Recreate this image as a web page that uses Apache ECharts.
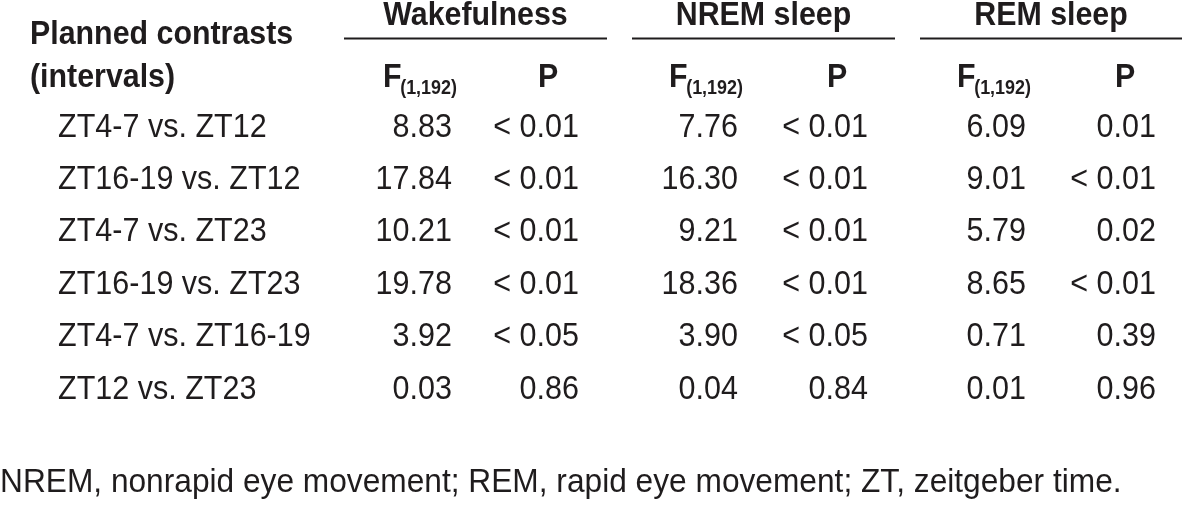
<!DOCTYPE html>
<html>
<head>
<meta charset="utf-8">
<script src="https://cdn.jsdelivr.net/npm/echarts@6/dist/echarts.min.js"></script>
<style>
html,body{margin:0;padding:0;background:#fff;}
#chart{width:1182px;height:511px;}
</style>
</head>
<body>
<div id="chart"></div>
<script>
// ---- data ----
const contrasts = ['ZT4-7 vs. ZT12','ZT16-19 vs. ZT12','ZT4-7 vs. ZT23','ZT16-19 vs. ZT23','ZT4-7 vs. ZT16-19','ZT12 vs. ZT23'];
const groups = ['Wakefulness','NREM sleep','REM sleep'];
const wakeF = [8.83, 17.84, 10.21, 19.78, 3.92, 0.03];
const wakeP = ['< 0.01','< 0.01','< 0.01','< 0.01','< 0.05','0.86'];
const nremF = [7.76, 16.30, 9.21, 18.36, 3.90, 0.04];
const nremP = ['< 0.01','< 0.01','< 0.01','< 0.01','< 0.05','0.84'];
const remF = [6.09, 9.01, 5.79, 8.65, 0.71, 0.01];
const remP = ['0.01','< 0.01','0.02','< 0.01','0.39','0.96'];
const rowHeader = ['Planned contrasts','(intervals)'];
const fLabel = 'F';
const fSub = '(1,192)';
const pLabel = 'P';
const footnote = 'NREM, nonrapid eye movement; REM, rapid eye movement; ZT, zeitgeber time.';

// ---- layout (pixels) ----
const labelX = 58;
const colRight = [452, 579, 738, 868, 1026, 1156];
const groupLines = [[344,607],[632,895],[920,1182]];
const INK = '#1f1c1d';
const FONT = '"Liberation Sans", Arial, sans-serif';
const SX = 0.925;   // horizontal condensing of body text
const SXB = 0.92;   // condensing of bold headers
const DY = 2.5;     // nudge from em-middle to cap-middle

const columns = [
  wakeF.map(v => v.toFixed(2)), wakeP,
  nremF.map(v => v.toFixed(2)), nremP,
  remF.map(v => v.toFixed(2)), remP
];

const cells = [];
contrasts.forEach((c, r) => cells.push([labelX, r, c, 'left']));
columns.forEach((col, ci) => col.forEach((t, r) => cells.push([colRight[ci], r, t, 'right'])));

function txt(x, y, text, align, size, bold, sx) {
  return {type:'text', x:x, y:y + DY, scaleX:sx,
    style:{text:text, x:0, y:0, align:align, verticalAlign:'middle', fontSize:size,
      fontWeight:bold ? 'bold' : 'normal', fontFamily:FONT, fill:INK}};
}

const graphics = [];
groups.forEach((g, i) => {
  const [a, b] = groupLines[i];
  graphics.push(txt((a+b)/2, 13, g, 'center', 33, true, SXB));
  graphics.push({type:'line', shape:{x1:a, y1:38.5, x2:b, y2:38.5}, style:{stroke:INK, lineWidth:2}});
  const fr = colRight[i*2], pr = colRight[i*2+1];
  graphics.push(txt(fr-69, 75, fLabel, 'left', 33, true, SXB));
  graphics.push(txt(fr+5, 86, fSub, 'right', 19.5, true, SXB));
  graphics.push(txt(pr-31, 75, pLabel, 'center', 33, true, SXB));
});
graphics.push(txt(30, 32, rowHeader[0], 'left', 33, true, SXB));
graphics.push(txt(30, 75, rowHeader[1], 'left', 33, true, SXB));
graphics.push(txt(0, 480, footnote, 'left', 33, false, 0.96));

const chart = echarts.init(document.getElementById('chart'), null, {renderer:'canvas'});
chart.setOption({
  backgroundColor:'#ffffff',
  animation:false,
  grid:{left:0, right:0, top:98.8, bottom:97.8},
  xAxis:{type:'value', min:0, max:1182, show:false},
  yAxis:{type:'category', data:contrasts, inverse:true, show:false},
  graphic:graphics,
  series:[{
    type:'custom',
    coordinateSystem:'cartesian2d',
    encode:{x:0, y:1},
    data:cells,
    renderItem:function(params, api){
      const pt = api.coord([api.value(0), api.value(1)]);
      const item = cells[params.dataIndex];
      return {type:'text', x:pt[0], y:pt[1] + DY, scaleX:SX,
        style:{text:item[2], x:0, y:0, align:item[3], verticalAlign:'middle', fontSize:33, fontFamily:FONT, fill:INK}};
    }
  }]
});
</script>
</body>
</html>
